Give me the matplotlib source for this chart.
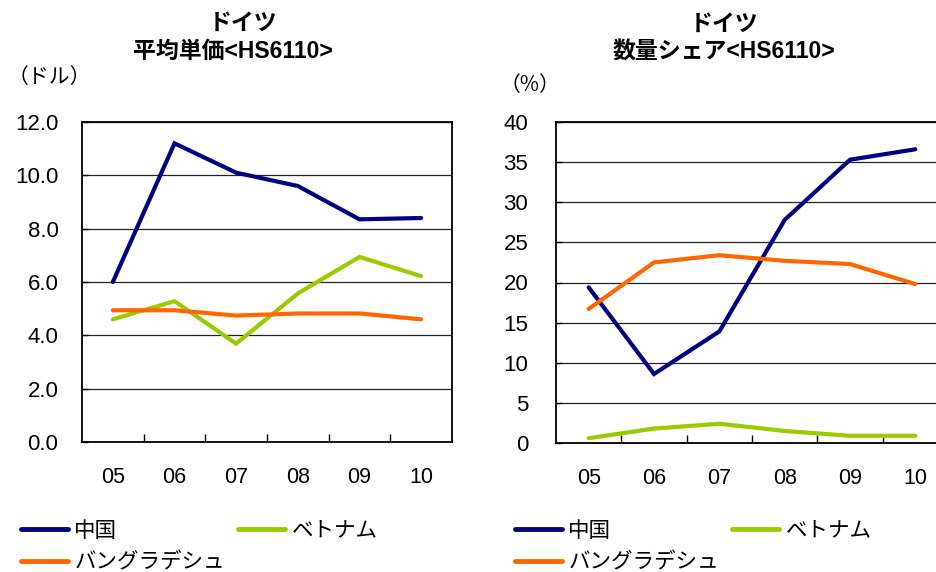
import numpy as np
import matplotlib.pyplot as plt
from matplotlib.lines import Line2D

plt.rcParams['font.family'] = ['Noto Sans CJK JP', 'DejaVu Sans']

years = ['05', '06', '07', '08', '09', '10']
series = ['中国', 'ベトナム', 'バングラデシュ']
colors = ['#000080', '#99CC00', '#FF6600']

# 平均単価（ドル）
price_china = [6.0, 11.2, 10.1, 9.6, 8.35, 8.4]
price_vietnam = [4.6, 5.28, 3.69, 5.57, 6.94, 6.22]
price_bangladesh = [4.94, 4.94, 4.74, 4.82, 4.82, 4.6]

# 数量シェア（%）
share_china = [19.4, 8.6, 13.9, 27.8, 35.3, 36.6]
share_vietnam = [0.6, 1.8, 2.4, 1.5, 0.9, 0.9]
share_bangladesh = [16.7, 22.5, 23.4, 22.7, 22.3, 19.8]

W, H = 937, 572
fig = plt.figure(figsize=(W / 100, H / 100), dpi=100)

num_font = ['Liberation Sans', 'Noto Sans CJK JP']


def px_axes(left, top, right, bottom):
    return fig.add_axes([left / W, 1 - bottom / H, (right - left) / W, (bottom - top) / H])


def draw_panel(ax, data, yticks, ylabels, ypad):
    x = np.arange(len(years))
    for vals, c in zip(data, colors):
        ax.plot(x, vals, color=c, lw=3.0, solid_capstyle='round', solid_joinstyle='miter', clip_on=False)
    ax.set_xlim(-0.5, len(years) - 0.5)
    ax.set_ylim(yticks[0], yticks[-1])
    ax.set_yticks(yticks)
    ax.set_yticklabels(ylabels, family=num_font, fontsize=16)
    ax.set_xticks(x)
    ax.set_xticklabels(years, family=num_font, fontsize=15.5)
    ax.set_xticks(np.arange(0.5, len(years) - 0.5), minor=True)
    ax.tick_params(axis='x', which='major', length=0, pad=18)
    ax.tick_params(axis='x', which='minor', direction='in', length=6, width=1)
    ax.tick_params(axis='y', direction='in', length=4, width=1, pad=ypad)
    ax.grid(axis='y', color='#222222', lw=0.9)
    ax.set_axisbelow(True)
    for s in ax.spines.values():
        s.set_linewidth(1.3)


ax1 = px_axes(82, 122, 452, 442)
draw_panel(ax1, [price_china, price_vietnam, price_bangladesh],
           np.arange(0, 12.1, 2.0), ['%.1f' % v for v in np.arange(0, 12.1, 2.0)], 17)

ax2 = px_axes(556, 122, 948, 443)
draw_panel(ax2, [share_china, share_vietnam, share_bangladesh],
           np.arange(0, 41, 5), [str(v) for v in range(0, 41, 5)], 20)

# タイトルと単位
title_font = dict(ha='center', va='center', fontsize=16.5, fontweight='bold', family=num_font)
fig.text(243 / W, 1 - 23 / H, 'ドイツ', **title_font)
fig.text(233 / W, 1 - 51 / H, '平均単価<HS6110>', **title_font)
fig.text(8 / W, 1 - 77 / H, '（ドル）', ha='left', va='center', fontsize=15)

fig.text(724 / W, 1 - 24 / H, 'ドイツ', **title_font)
fig.text(724 / W, 1 - 52 / H, '数量シェア<HS6110>', **title_font)
fig.text(500 / W, 1 - 85 / H, '（%）', ha='left', va='center', fontsize=15)

# 凡例
handles = [Line2D([], [], color=c, lw=3.5, solid_capstyle='round') for c in colors]
order = [0, 2, 1]
for x0 in (12, 506):
    fig.legend([handles[i] for i in order], [series[i] for i in order],
               loc='upper left', bbox_to_anchor=(x0 / W, 1 - 511 / H), ncol=2,
               frameon=False, fontsize=15.5, handlelength=2.2, handletextpad=0.3,
               columnspacing=0.6, labelspacing=0.45, borderaxespad=0)

fig.savefig('out.png', dpi=100)
